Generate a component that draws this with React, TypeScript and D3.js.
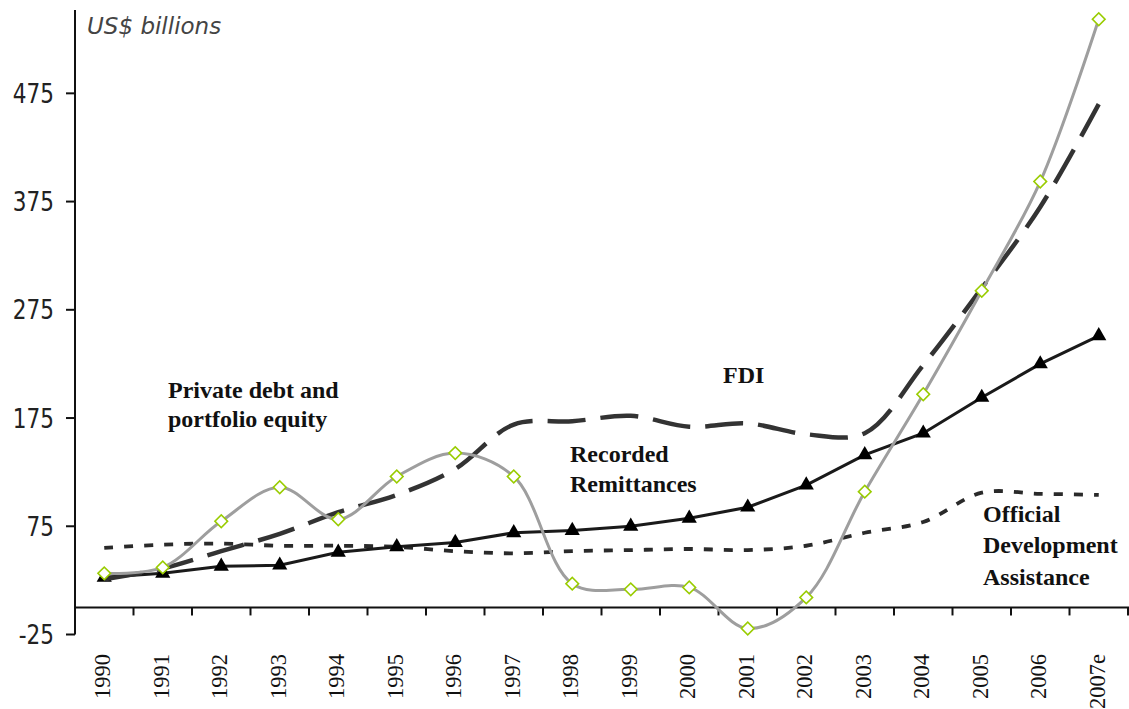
import React from "react";
import * as d3 from "d3";

const years = ["1990", "1991", "1992", "1993", "1994", "1995", "1996", "1997", "1998", "1999", "2000", "2001", "2002", "2003", "2004", "2005", "2006", "2007e"];
const privateDebt = [31.5, 37, 79.6, 111, 81.5, 121, 142.6, 121, 22, 16.7, 18.5, -19.4, 9.3, 107, 197, 292.6, 393.5, 543.5];
const fdi = [26, 36, 52, 68, 88, 104, 128, 169, 172, 177, 167, 170, 160, 161, 224, 295, 370, 465];
const remittances = [27.8, 31.5, 38, 39, 51, 56, 60, 69, 71, 75, 82.4, 92.6, 113, 141, 161, 194, 225, 251];
const oda = [55, 58, 59, 57, 57, 56, 52, 50, 52, 53, 54, 53, 57, 69, 79, 106, 105, 104];
const yTicks = [-25, 75, 175, 275, 375, 475];
const unitLabel = "US$ billions";

const W = 1129;
const H = 709;

export default function App() {
  const x = d3.scaleBand<string>().domain(years).range([75, 1128]).padding(0);
  const y = d3.scaleLinear().domain([-25, 552]).range([634.5, 10]);
  const cx = (i: number) => (x(years[i]) as number) + x.bandwidth() / 2;

  const smooth = d3
    .line<number>()
    .x((_, i) => cx(i))
    .y((d) => y(d))
    .curve(d3.curveCatmullRom.alpha(0.5));
  const straight = d3
    .line<number>()
    .x((_, i) => cx(i))
    .y((d) => y(d));

  const diamond = d3.symbol().type(d3.symbolSquare).size(80)() as string;
  const triangle = d3.symbol().type(d3.symbolTriangle).size(100)() as string;

  const y0 = y(0);
  const serif = "'Liberation Serif', 'Times New Roman', serif";
  const sans = "'DejaVu Sans', Verdana, sans-serif";

  return (
    <div style={{ position: "absolute", left: 0, top: 0 }}>
      <svg width={W} height={H} style={{ display: "block", background: "#fff" }}>
        {/* axes */}
        <line x1={75} x2={75} y1={10} y2={y(-25)} stroke="#111" strokeWidth={2} />
        <line x1={75} x2={1129} y1={y0} y2={y0} stroke="#111" strokeWidth={2} />
        {yTicks.map((t) => (
          <g key={t}>
            <line x1={66} x2={75} y1={y(t)} y2={y(t)} stroke="#111" strokeWidth={2} />
            <text
              transform={`translate(54,${y(t) + 9.5}) scale(0.83,1)`}
              textAnchor="end"
              fontFamily={sans}
              fontSize={26}
              fill="#222"
            >
              {t}
            </text>
          </g>
        ))}
        {years.map((yr, i) => (
          <g key={yr}>
            {i > 0 && (
              <line
                x1={x(yr) as number}
                x2={x(yr) as number}
                y1={y0}
                y2={y0 + 8}
                stroke="#111"
                strokeWidth={2}
              />
            )}
            <text
              transform={`translate(${cx(i) + 6},654) rotate(-90)`}
              textAnchor="end"
              fontFamily={serif}
              fontSize={22.5}
              fill="#111"
            >
              {yr}
            </text>
          </g>
        ))}
        <line x1={1128} x2={1128} y1={y0} y2={y0 + 8} stroke="#111" strokeWidth={2} />

        {/* unit label */}
        <text x={87} y={34} fontFamily={sans} fontStyle="italic" fontSize={23} fill="#444">
          {unitLabel}
        </text>

        {/* ODA */}
        <path d={smooth(oda) as string} fill="none" stroke="#2a2a2a" strokeWidth={3.8} strokeDasharray="9 11" />
        {/* Remittances */}
        <path d={straight(remittances) as string} fill="none" stroke="#1a1a1a" strokeWidth={3} />
        {remittances.map((v, i) => (
          <path key={i} d={triangle} transform={`translate(${cx(i)},${y(v)})`} fill="#000" />
        ))}
        {/* FDI */}
        <path d={smooth(fdi) as string} fill="none" stroke="#333" strokeWidth={4.5} strokeDasharray="38 15" />
        {/* Private debt */}
        <path d={smooth(privateDebt) as string} fill="none" stroke="#9e9e9e" strokeWidth={3} />
        {privateDebt.map((v, i) => (
          <path
            key={i}
            d={diamond}
            transform={`translate(${cx(i)},${y(v)}) rotate(45)`}
            fill="#fff"
            stroke="#99cc00"
            strokeWidth={1.6}
          />
        ))}

        {/* series labels */}
        <g fontFamily={serif} fontWeight="bold" fontSize={24} fill="#111">
          <text x={168} y={398}>Private debt and</text>
          <text x={168} y={427}>portfolio equity</text>
          <text x={723} y={383}>FDI</text>
          <text x={570} y={462}>Recorded</text>
          <text x={570} y={492}>Remittances</text>
          <text x={983} y={522}>Official</text>
          <text x={983} y={553}>Development</text>
          <text x={983} y={585}>Assistance</text>
        </g>
      </svg>
    </div>
  );
}
